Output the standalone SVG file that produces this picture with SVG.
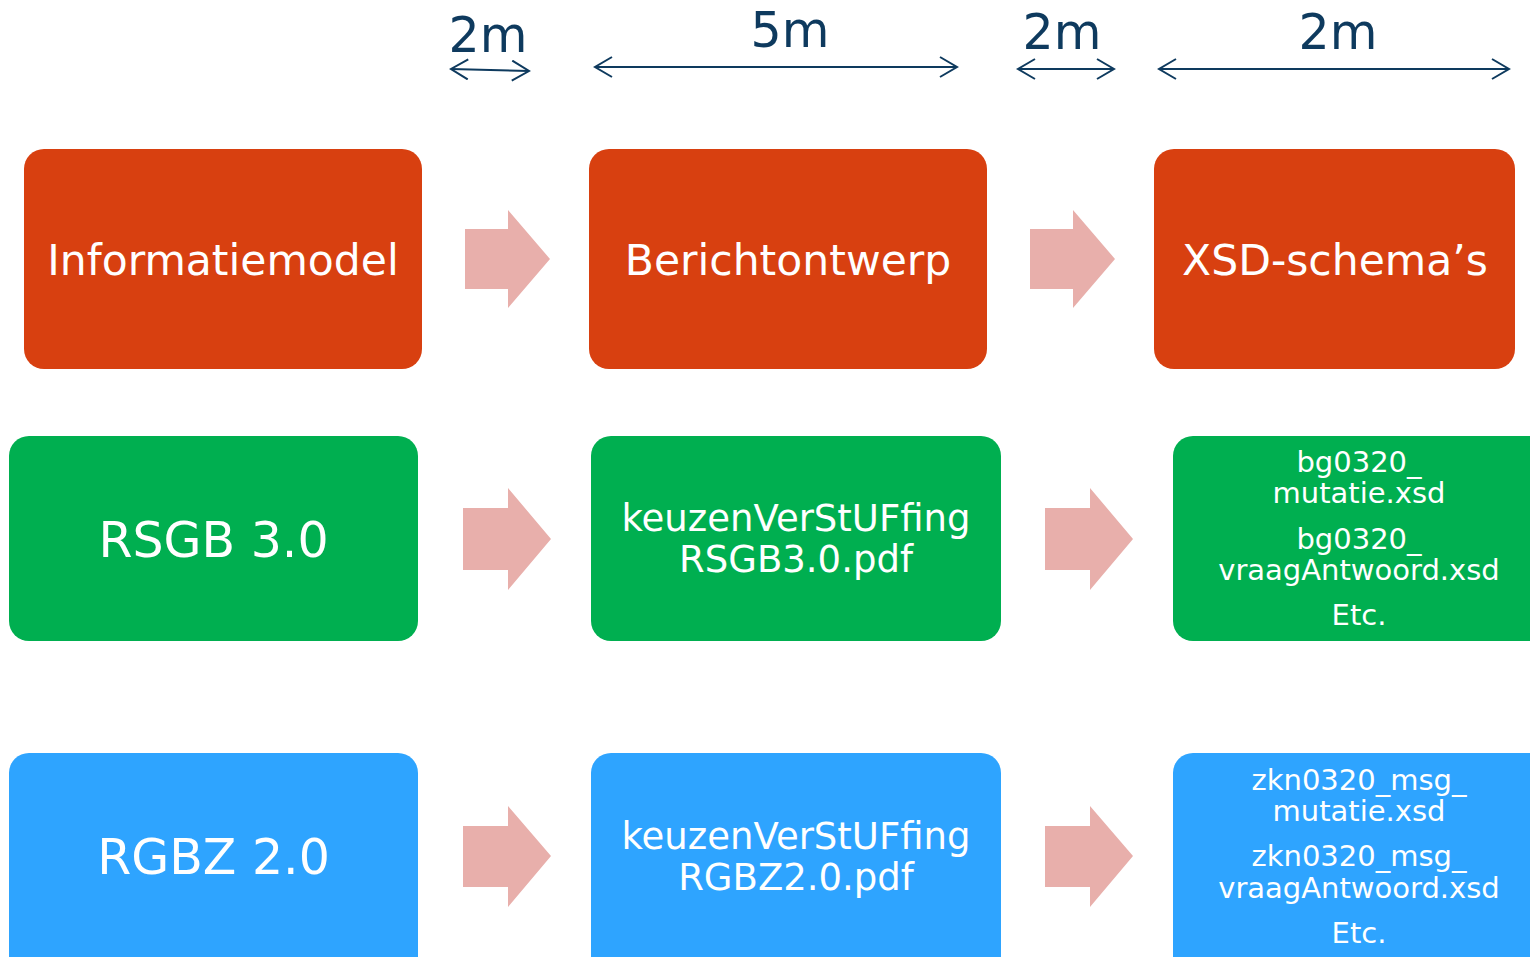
<svg xmlns="http://www.w3.org/2000/svg" width="1530" height="957" viewBox="0 0 1530 957">
<defs>
<style>
.org{fill:#D84010}
.grn{fill:#00AF50}
.blu{fill:#2EA4FF}
.flow{fill:#E8AFAB}
.t{font-family:"DejaVu Sans","Liberation Sans",sans-serif;fill:#FFFFFF;text-anchor:middle}
.big{font-size:42.5px}
.mid{font-size:49px}
.med{font-size:37px}
.sm{font-size:29px}
.dim{font-family:"DejaVu Sans","Liberation Sans",sans-serif;fill:#0E3A5E;text-anchor:middle;font-size:49px}
.dl{stroke:#0E3A5E;stroke-width:2;fill:none;marker-start:url(#chev);marker-end:url(#chev)}
</style>
<marker id="chev" viewBox="-18 -11 20 22" refX="0" refY="0" markerWidth="20" markerHeight="22" markerUnits="userSpaceOnUse" orient="auto-start-reverse">
<path d="M-17,-10 L0,0 L-17,10" fill="none" stroke="#0E3A5E" stroke-width="2"/>
</marker>
</defs>
<rect width="1530" height="957" fill="#FFFFFF"/>

<g id="connectors">
<line class="dl" x1="451" y1="69" x2="529" y2="71"/>
<line class="dl" x1="595" y1="67" x2="957" y2="67"/>
<line class="dl" x1="1018" y1="69" x2="1114" y2="69"/>
<line class="dl" x1="1159" y1="69" x2="1509" y2="69"/>
<polygon class="flow" points="465,229 508,229 508,210 550,259 508,308 508,289 465,289"/>
<polygon class="flow" points="1030,229 1073,229 1073,210 1115,259 1073,308 1073,289 1030,289"/>
<polygon class="flow" points="463,508 508,508 508,488 551,539 508,590 508,570 463,570"/>
<polygon class="flow" points="1045,508 1090,508 1090,488 1133,539 1090,590 1090,570 1045,570"/>
<polygon class="flow" points="463,826 508,826 508,806 551,856 508,907 508,887 463,887"/>
<polygon class="flow" points="1045,826 1090,826 1090,806 1133,856 1090,907 1090,887 1045,887"/>
</g>

<g id="dimension-labels">
<text class="dim" x="488" y="52">2m</text>
<text class="dim" x="790" y="47">5m</text>
<text class="dim" x="1062" y="49">2m</text>
<text class="dim" x="1338" y="49">2m</text>
</g>

<g id="informatiemodel">
<rect class="org" x="24" y="149" width="398" height="220" rx="20"/>
<text class="t big" x="223" y="275">Informatiemodel</text>
</g>
<g id="berichtontwerp">
<rect class="org" x="589" y="149" width="398" height="220" rx="20"/>
<text class="t big" x="788" y="275">Berichtontwerp</text>
</g>
<g id="xsd-schemas">
<rect class="org" x="1154" y="149" width="361" height="220" rx="20"/>
<text class="t big" x="1335" y="275">XSD-schema’s</text>
</g>

<g id="rsgb">
<rect class="grn" x="9" y="436" width="409" height="205" rx="20"/>
<text class="t mid" x="213.5" y="557">RSGB 3.0</text>
</g>
<g id="keuzen-rsgb">
<rect class="grn" x="591" y="436" width="410" height="205" rx="20"/>
<text class="t med" x="796" y="531">keuzenVerStUFfing</text>
<text class="t med" x="796" y="572">RSGB3.0.pdf</text>
</g>
<g id="bg-xsd">
<rect class="grn" x="1173" y="436" width="380" height="205" rx="20"/>
<text class="t sm" x="1359" y="472">bg0320_</text>
<text class="t sm" x="1359" y="503">mutatie.xsd</text>
<text class="t sm" x="1359" y="549">bg0320_</text>
<text class="t sm" x="1359" y="580">vraagAntwoord.xsd</text>
<text class="t sm" x="1359" y="625">Etc.</text>
</g>

<g id="rgbz">
<rect class="blu" x="9" y="753" width="409" height="230" rx="20"/>
<text class="t mid" x="213.5" y="874">RGBZ 2.0</text>
</g>
<g id="keuzen-rgbz">
<rect class="blu" x="591" y="753" width="410" height="230" rx="20"/>
<text class="t med" x="796" y="849">keuzenVerStUFfing</text>
<text class="t med" x="796" y="890">RGBZ2.0.pdf</text>
</g>
<g id="zkn-xsd">
<rect class="blu" x="1173" y="753" width="380" height="230" rx="20"/>
<text class="t sm" x="1359" y="790">zkn0320_msg_</text>
<text class="t sm" x="1359" y="821">mutatie.xsd</text>
<text class="t sm" x="1359" y="866">zkn0320_msg_</text>
<text class="t sm" x="1359" y="898">vraagAntwoord.xsd</text>
<text class="t sm" x="1359" y="943">Etc.</text>
</g>
</svg>
